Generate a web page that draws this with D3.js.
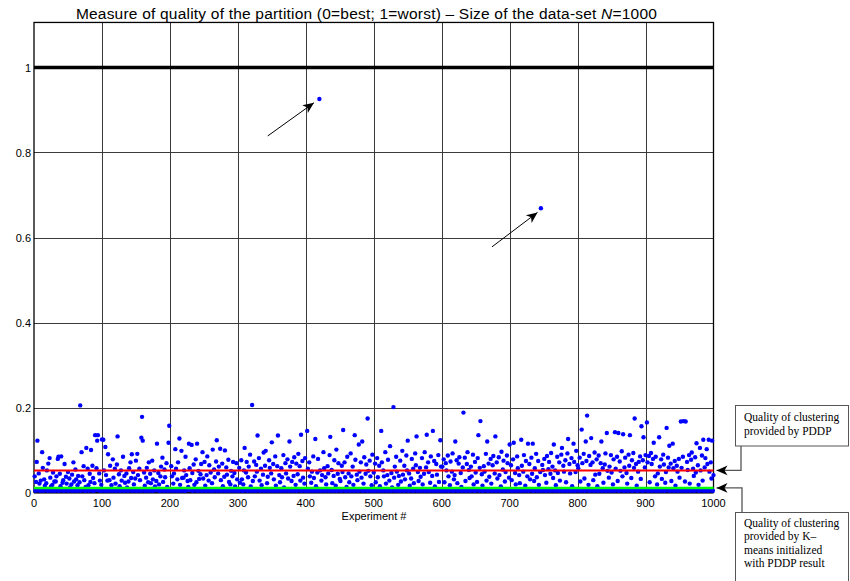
<!DOCTYPE html>
<html><head><meta charset="utf-8">
<script src="https://cdn.jsdelivr.net/npm/d3@7"></script>
<style>body{margin:0;background:#fff}svg{display:block}</style>
</head><body>
<script>
// Quality per experiment (0=best, 1=worst), experiments 1..1000, in blocks of 100
const block1=[.038,.004,.025,.072,.122,.005,.045,.021,.004,.028,.005,.095,.058,.004,.031,.016,.006,.022,.052,.004,.068,.005,.081,.035,.014,.004,.018,.047,.005,.026,.004,.026,.038,.005,.079,.084,.004,.044,.015,.085,.005,.023,.029,.004,.067,.006,.037,.021,.005,.048,.004,.033,.012,.005,.019,.042,.004,.071,.026,.005,.054,.031,.004,.017,.039,.005,.024,.205,.004,.095,.038,.006,.062,.029,.004,.013,.105,.005,.056,.017,.004,.044,.025,.1,.005,.063,.034,.004,.022,.135,.006,.057,.122,.135,.005,.045,.028,.004,.018,.125];
const block2=[.005,.124,.052,.004,.107,.041,.005,.028,.09,.004,.029,.063,.006,.017,.004,.078,.035,.005,.056,.021,.004,.066,.132,.005,.043,.015,.004,.052,.028,.006,.084,.004,.039,.023,.005,.045,.012,.004,.026,.057,.005,.071,.034,.09,.004,.048,.019,.005,.033,.075,.004,.091,.041,.005,.056,.029,.004,.129,.178,.122,.005,.047,.016,.004,.035,.058,.005,.024,.071,.004,.044,.022,.005,.075,.031,.004,.052,.014,.006,.027,.115,.005,.046,.019,.004,.038,.061,.005,.082,.025,.004,.054,.036,.005,.069,.013,.004,.117,.157,.005];
const block3=[.006,.062,.038,.004,.021,.045,.005,.102,.056,.004,.031,.071,.005,.127,.018,.004,.098,.034,.005,.035,.052,.004,.084,.041,.005,.027,.013,.115,.057,.029,.005,.112,.046,.004,.066,.018,.005,.078,.024,.115,.004,.051,.032,.005,.043,.067,.004,.095,.033,.005,.072,.016,.004,.041,.085,.005,.028,.064,.004,.047,.005,.022,.101,.004,.054,.036,.005,.073,.123,.004,.045,.061,.005,.103,.029,.004,.068,.015,.005,.037,.099,.004,.059,.042,.005,.077,.025,.004,.019,.051,.005,.038,.072,.004,.046,.014,.005,.069,.031,.004];
const block4=[.004,.058,.023,.005,.076,.031,.004,.019,.052,.105,.005,.047,.072,.004,.036,.061,.005,.089,.014,.004,.206,.027,.005,.073,.038,.004,.065,.049,.134,.005,.081,.028,.004,.056,.017,.005,.042,.094,.004,.063,.098,.005,.022,.037,.004,.076,.058,.005,.045,.118,.004,.067,.031,.005,.085,.016,.004,.062,.134,.005,.041,.024,.004,.057,.036,.005,.088,.012,.004,.069,.045,.005,.078,.033,.004,.12,.061,.005,.027,.072,.004,.039,.083,.005,.018,.068,.004,.043,.091,.005,.062,.028,.136,.004,.074,.035,.005,.021,.081,.004];
const block5=[.005,.145,.056,.004,.071,.038,.005,.023,.049,.004,.085,.034,.005,.126,.015,.004,.047,.079,.005,.926,.052,.004,.028,.041,.005,.095,.057,.004,.036,.019,.005,.062,.045,.004,.088,.131,.005,.053,.022,.004,.039,.076,.005,.016,.101,.004,.044,.069,.005,.032,.027,.004,.063,.048,.147,.005,.071,.036,.004,.013,.084,.005,.045,.024,.004,.092,.038,.005,.061,.018,.004,.135,.077,.005,.042,.029,.004,.113,.049,.005,.071,.035,.12,.004,.021,.083,.005,.044,.066,.004,.174,.051,.005,.075,.038,.004,.017,.089,.005,.047];
const block6=[.004,.068,.024,.005,.081,.036,.004,.063,.015,.005,.145,.071,.004,.052,.038,.005,.095,.021,.004,.041,.077,.005,.028,.109,.004,.046,.012,.005,.201,.035,.061,.004,.084,.049,.005,.018,.039,.004,.075,.026,.005,.098,.042,.004,.063,.031,.005,.087,.052,.122,.004,.045,.016,.005,.033,.079,.004,.056,.022,.005,.092,.064,.132,.004,.048,.027,.005,.058,.037,.004,.081,.019,.005,.044,.095,.004,.059,.136,.005,.071,.048,.004,.023,.085,.005,.039,.145,.004,.074,.014,.005,.067,.042,.004,.088,.025,.005,.123,.061,.004];
const block7=[.061,.005,.078,.024,.004,.069,.052,.005,.087,.038,.004,.017,.073,.005,.049,.092,.004,.031,.041,.12,.005,.076,.022,.004,.068,.083,.005,.046,.013,.004,.059,.188,.005,.082,.027,.004,.067,.095,.005,.053,.034,.004,.061,.038,.005,.089,.019,.004,.072,.047,.005,.025,.081,.135,.004,.058,.168,.005,.043,.016,.004,.062,.049,.005,.091,.028,.12,.004,.068,.037,.005,.079,.021,.004,.064,.086,.005,.045,.132,.004,.071,.033,.005,.083,.041,.004,.014,.096,.005,.054,.075,.004,.026,.048,.005,.087,.069,.004,.035,.113];
const block8=[.005,.064,.029,.004,.078,.117,.005,.046,.019,.004,.085,.057,.005,.041,.022,.004,.124,.063,.005,.049,.088,.004,.016,.074,.005,.038,.115,.004,.067,.031,.005,.082,.044,.115,.004,.027,.057,.005,.091,.036,.004,.074,.018,.005,.048,.669,.004,.065,.053,.005,.079,.041,.004,.023,.086,.005,.055,.072,.004,.044,.093,.005,.061,.034,.113,.004,.052,.017,.005,.084,.046,.004,.071,.028,.005,.089,.105,.004,.063,.049,.005,.076,.024,.004,.092,.126,.005,.067,.045,.004,.081,.015,.005,.115,.072,.004,.048,.098,.005,.064];
const block9=[.057,.005,.082,.026,.004,.148,.069,.005,.091,.033,.004,.12,.074,.181,.005,.018,.086,.004,.065,.128,.005,.071,.029,.004,.094,.042,.005,.078,.015,.004,.087,.044,.005,.069,.12,.004,.057,.023,.005,.066,.092,.004,.14,.051,.005,.035,.061,.004,.088,.047,.005,.019,.078,.004,.142,.056,.005,.084,.027,.14,.004,.073,.051,.005,.097,.038,.137,.004,.059,.082,.005,.046,.021,.004,.089,.063,.135,.005,.034,.076,.004,.093,.058,.174,.005,.067,.016,.004,.049,.072,.005,.085,.032,.156,.004,.076,.13,.005,.059,.088];
const block10=[.005,.165,.071,.004,.086,.024,.005,.093,.067,.004,.079,.117,.005,.038,.084,.004,.019,.045,.005,.13,.061,.004,.078,.032,.005,.089,.066,.004,.023,.048,.152,.005,.082,.059,.11,.004,.068,.027,.005,.115,.057,.004,.074,.016,.005,.063,.049,.004,.079,.035,.005,.167,.058,.004,.084,.168,.005,.026,.167,.004,.072,.053,.005,.088,.021,.004,.077,.094,.005,.056,.039,.004,.083,.047,.116,.005,.064,.018,.004,.105,.052,.005,.087,.028,.124,.004,.059,.081,.005,.102,.067,.004,.124,.049,.005,.071,.033,.122,.004,.041];
const quality=[].concat(block1,block2,block3,block4,block5,block6,block7,block8,block9,block10);

const xTicks=[0,100,200,300,400,500,600,700,800,900,1000];
const yTicks=[0,0.2,0.4,0.6,0.8,1];
const yTickLabels=["0","0.2","0.4","0.6","0.8","1"];
const worstLevel=1;
const pddpLevel=0.052;
const kmeansLevel=0.0108;
// annotation arrows pointing at outliers [x0,y0,x1,y1] in data units
const outlierArrows=[[344,0.839,412,0.917],[674,0.578,741,0.659]];
const pddpNote=["Quality of clustering","provided by PDDP"];
const kmeansNote=["Quality of clustering","provided by K\u2013","means initialized","with PDDP result"];

const W=850,H=581;
const svg=d3.select("body").append("svg").attr("width",W).attr("height",H);
const x=d3.scaleLinear().domain([0,1000]).range([34,713.5]);
const y=d3.scaleLinear().domain([0,1]).range([492.5,67.5]);
const yTop=y(1.106);

const defs=svg.append("defs");
defs.append("marker").attr("id","ah").attr("markerUnits","userSpaceOnUse")
  .attr("viewBox","-12 -6 14 12").attr("refX",0).attr("refY",0)
  .attr("markerWidth",14).attr("markerHeight",12).attr("orient","auto")
  .append("path").attr("d","M0,0 L-11,-4.8 L-8,0 L-11,4.8 Z").attr("fill","#000");

// grid
const g=svg.append("g");
g.selectAll(".vg").data(xTicks.slice(1,-1)).join("line")
  .attr("x1",d=>Math.round(x(d))+0.5).attr("x2",d=>Math.round(x(d))+0.5)
  .attr("y1",yTop).attr("y2",y(0)).attr("stroke","#3a3a3a").attr("stroke-width",1);
g.selectAll(".hg").data(yTicks.filter(d=>d>0&&d<1)).join("line")
  .attr("x1",x(0)).attr("x2",x(1000))
  .attr("y1",d=>Math.round(y(d))+0.5).attr("y2",d=>Math.round(y(d))+0.5)
  .attr("stroke","#3a3a3a").attr("stroke-width",1);

// worst line
g.append("line").attr("x1",x(0)).attr("x2",x(1000)).attr("y1",y(worstLevel)).attr("y2",y(worstLevel))
  .attr("stroke","#000").attr("stroke-width",3.5);

// frame
svg.append("rect").attr("x",x(0)).attr("y",yTop).attr("width",x(1000)-x(0)).attr("height",y(0)-yTop)
  .attr("fill","none").attr("stroke","#000").attr("stroke-width",1.3);
svg.append("line").attr("x1",x(0)).attr("x2",x(1000)).attr("y1",y(0)).attr("y2",y(0)).attr("stroke","#000").attr("stroke-width",2);

// points
svg.append("g").selectAll("circle").data(quality).join("circle")
  .attr("cx",(d,i)=>x(i+1)).attr("cy",d=>y(d)).attr("r",2.2).attr("fill","#0000ff");

// level lines
svg.append("line").attr("x1",x(0)).attr("x2",x(1000)).attr("y1",y(kmeansLevel)).attr("y2",y(kmeansLevel))
  .attr("stroke","#00ff00").attr("stroke-width",2.5);
svg.append("line").attr("x1",x(0)).attr("x2",x(1000)).attr("y1",y(pddpLevel)).attr("y2",y(pddpLevel))
  .attr("stroke","#ff0000").attr("stroke-width",2);

// tick labels
const sans="Liberation Sans, Arial, sans-serif";
svg.selectAll(".xt").data(xTicks).join("text").attr("x",d=>x(d)).attr("y",507)
  .attr("text-anchor","middle").attr("font-family",sans).attr("font-size",11).text(d=>d);
svg.selectAll(".yt").data(yTicks).join("text").attr("x",31).attr("y",d=>y(d)+4)
  .attr("text-anchor","end").attr("font-family",sans).attr("font-size",11).text((d,i)=>yTickLabels[i]);
svg.append("text").attr("x",374).attr("y",520).attr("text-anchor","middle")
  .attr("font-family",sans).attr("font-size",11).text("Experiment #");

// title
const t=svg.append("text").attr("x",366.5).attr("y",19).attr("text-anchor","middle")
  .attr("font-family",sans).attr("font-size",15.5);
t.append("tspan").text("Measure of quality of the partition (0=best; 1=worst) \u2013 Size of the data-set ");
t.append("tspan").attr("font-style","italic").text("N");
t.append("tspan").text("=1000");
const tl=t.node().getComputedTextLength();
const nch=t.text().length;
t.attr("letter-spacing",Math.max(0,(581-tl)/(nch-1)).toFixed(3));

// outlier arrows
svg.selectAll(".oa").data(outlierArrows).join("line")
  .attr("x1",d=>x(d[0])).attr("y1",d=>y(d[1])).attr("x2",d=>x(d[2])).attr("y2",d=>y(d[3]))
  .attr("stroke","#000").attr("stroke-width",1).attr("marker-end","url(#ah)");

// annotation boxes
const ser="Liberation Serif, Times New Roman, serif";
svg.append("rect").attr("x",735.5).attr("y",405.5).attr("width",113).attr("height",40.5)
  .attr("fill","#fff").attr("stroke","#555").attr("stroke-width",1);
pddpNote.forEach((s,i)=>svg.append("text").attr("x",744).attr("y",421+i*13.5)
  .attr("font-family",ser).attr("font-size",11.5).text(s));
svg.append("polyline").attr("points",`741,446 741,${y(pddpLevel)} ${x(1000)+3},${y(pddpLevel)}`)
  .attr("fill","none").attr("stroke","#555").attr("stroke-width",1.3).attr("marker-end","url(#ah)");

svg.append("rect").attr("x",735.5).attr("y",512.5).attr("width",113).attr("height",80)
  .attr("fill","#fff").attr("stroke","#555").attr("stroke-width",1);
kmeansNote.forEach((s,i)=>svg.append("text").attr("x",744).attr("y",527+i*13.4)
  .attr("font-family",ser).attr("font-size",11.5).text(s));
svg.append("polyline").attr("points",`742,512.5 742,${y(kmeansLevel)} ${x(1000)+3},${y(kmeansLevel)}`)
  .attr("fill","none").attr("stroke","#555").attr("stroke-width",1.3).attr("marker-end","url(#ah)");
</script>
</body></html>
